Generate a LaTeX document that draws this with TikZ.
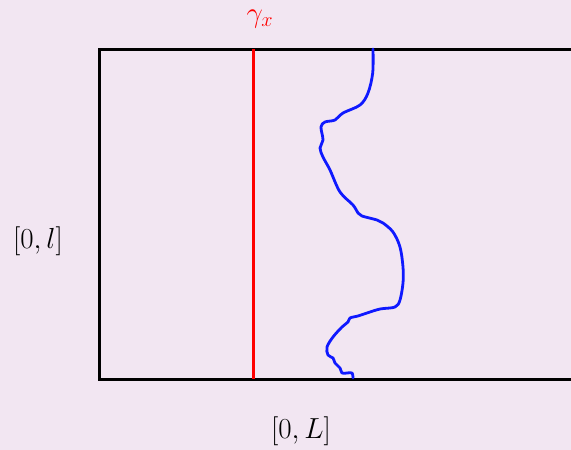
\RequirePackage{fix-cm}
\documentclass[tikz,border=0pt]{standalone}
\usepackage{tikz}
\definecolor{bg}{RGB}{242,230,242}
\definecolor{cblue}{RGB}{15,25,255}
\tikzset{
  box/.style={draw=black, line width=3pt},
  gline/.style={draw=red, line width=3pt},
  path/.style={draw=cblue, line width=2.8pt, line cap=round, line join=round},
  lab/.style={font=\fontsize{29}{33}\selectfont, inner sep=0pt}
}
\begin{document}
\begin{tikzpicture}[x=1pt,y=-1pt]
\clip (0,0) rectangle (571,450);
\fill[bg] (0,0) rectangle (571,450);
\draw[box] (620,49) -- (99,49) -- (99,379) -- (620,379);
\coordinate (gt) at (253,49);
\coordinate (gb) at (253,379);
\draw[gline] (gt) -- (gb);
\draw[path] plot[smooth, tension=0.55] coordinates {
 (373,49) (372.7,73) (368,93) (360,105) (343,113) (335,120) (325,122) (321,127)
 (323,140) (320,148) (323,157) (330,170) (340,192) (353,205) (358,213) (362,216)
 (377,220) (383,223) (393,232) (400,247) (403,267) (403,283) (400,300) (395,307)
 (380,309) (367,313) (358,316) (350,318) (348,322) (342,327) (333,337) (327,347)
 (328,355) (333,358) (335,363) (340,368) (342,373) (347,373) (352,373) (353,378)};
\node[lab, text=red] (gx) at (260,19) {$\gamma_x$};
\node[lab] (ll) at (38,241) {$[0,l]$};
\node[lab] (LL) at (301,431) {$[0,L]$};
\end{tikzpicture}
\end{document}
